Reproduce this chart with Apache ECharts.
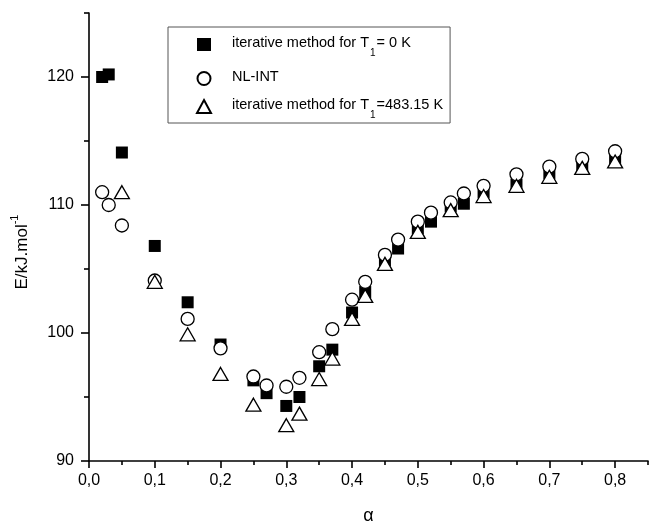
<!DOCTYPE html>
<html>
<head>
<meta charset="utf-8">
<script src="https://cdn.jsdelivr.net/npm/echarts@6/dist/echarts.min.js"></script>
<style>
html, body { margin: 0; padding: 0; background: #fff; }
#chart { width: 649px; height: 521px; }
</style>
</head>
<body>
<div id="chart"></div>
<script>
// Conversion degree α at which the activation energy was evaluated
const alpha = [0.02, 0.03, 0.05, 0.10, 0.15, 0.20, 0.25, 0.27, 0.30, 0.32, 0.35, 0.37, 0.40,
               0.42, 0.45, 0.47, 0.50, 0.52, 0.55, 0.57, 0.60, 0.65, 0.70, 0.75, 0.80];

// Activation energy E (kJ/mol); null where no value was obtained
const eIterT0 = [120.0, 120.2, 114.1, 106.8, 102.4, 99.1, 96.3, 95.3, 94.3, 95.0, 97.4, 98.7, 101.6,
                 103.2, 105.7, 106.6, 108.2, 108.7, 109.9, 110.1, 111.0, 111.6, 112.5, 113.0, 113.6];
const eNlInt  = [111.0, 110.0, 108.4, 104.1, 101.1, 98.8, 96.6, 95.9, 95.8, 96.5, 98.5, 100.3, 102.6,
                 104.0, 106.1, 107.3, 108.7, 109.4, 110.2, 110.9, 111.5, 112.4, 113.0, 113.6, 114.2];
const eIterT483 = [null, null, 111.0, 104.0, 99.9, 96.8, 94.4, null, 92.8, 93.7, 96.4, 98.0, 101.1,
                   102.9, 105.4, null, 107.9, null, 109.6, null, 110.7, 111.5, 112.2, 112.9, 113.4];

// Axis ticks
const xMajorTicks = [0, 0.1, 0.2, 0.3, 0.4, 0.5, 0.6, 0.7, 0.8];
const xMinorTicks = [0.05, 0.15, 0.25, 0.35, 0.45, 0.55, 0.65, 0.75, 0.85];
const yMajorTicks = [90, 100, 110, 120];
const yMinorTicks = [95, 105, 115, 125];

const FONT = '"Liberation Sans", Arial, sans-serif';

function pairs(xs, ys) {
  const out = [];
  xs.forEach((x, i) => { if (ys[i] !== null) out.push([x, ys[i]]); });
  return out;
}

const axisLineStyle = { color: '#000', width: 1.6 };

function baseAxis(extra) {
  return Object.assign({
    type: 'value',
    splitLine: { show: false },
    axisLine: { show: true, onZero: false, lineStyle: axisLineStyle }
  }, extra);
}

const chart = echarts.init(document.getElementById('chart'), null, { renderer: 'canvas' });

chart.setOption({
  animation: false,
  backgroundColor: '#fff',
  grid: { left: 89, right: 1, top: 13, bottom: 60, containLabel: false, outerBoundsMode: 'none' },
  xAxis: [
    baseAxis({
      min: 0, max: 0.85,
      name: 'α', nameLocation: 'middle', nameGap: 46,
      nameTextStyle: { fontFamily: FONT, fontSize: 18, color: '#000' },
      axisTick: { show: true, length: 7, customValues: xMajorTicks, lineStyle: axisLineStyle },
      axisLabel: {
        customValues: xMajorTicks, margin: 12,
        fontFamily: FONT, fontSize: 16, color: '#000',
        formatter: v => v.toFixed(1).replace('.', ',')
      }
    }),
    baseAxis({
      min: 0, max: 0.85, position: 'bottom',
      axisLine: { show: false },
      axisTick: { show: true, length: 4, customValues: xMinorTicks, lineStyle: axisLineStyle },
      axisLabel: { show: false }
    })
  ],
  yAxis: [
    baseAxis({
      min: 90, max: 125,
      name: '{t|E/kJ.mol}{s|-1}', nameLocation: 'middle', nameGap: 58,
      nameTextStyle: {
        padding: [0, 30, 0, 0],
        rich: {
          t: { fontFamily: FONT, fontSize: 17, color: '#000', lineHeight: 22, verticalAlign: 'bottom' },
          s: { fontFamily: FONT, fontSize: 11, color: '#000', lineHeight: 22, verticalAlign: 'top' }
        }
      },
      axisTick: { show: true, length: 8, customValues: yMajorTicks, lineStyle: axisLineStyle },
      axisLabel: {
        customValues: yMajorTicks, margin: 15,
        fontFamily: FONT, fontSize: 16, color: '#000'
      }
    }),
    baseAxis({
      min: 90, max: 125, position: 'left',
      axisLine: { show: false },
      axisTick: { show: true, length: 5, customValues: yMinorTicks, lineStyle: axisLineStyle },
      axisLabel: { show: false }
    })
  ],
  legend: {
    left: 168, top: 27,
    orient: 'vertical',
    itemWidth: 14, itemHeight: 13, itemGap: 11,
    padding: [8, 7, 3, 28],
    borderColor: '#555', borderWidth: 1,
    backgroundColor: '#fff',
    data: ['T0', 'NL-INT', 'T483'],
    formatter: name => ({
      'T0': '{t|iterative method for T}{s|1}{t|= 0 K}',
      'NL-INT': '{t|NL-INT}',
      'T483': '{t|iterative method for T}{s|1}{t|=483.15 K}'
    })[name],
    textStyle: {
      padding: [0, 0, 0, 16],
      rich: {
        t: { fontFamily: FONT, fontSize: 14.5, color: '#000', lineHeight: 19, verticalAlign: 'top' },
        s: { fontFamily: FONT, fontSize: 10, color: '#000', lineHeight: 19, verticalAlign: 'bottom', padding: [0, 1, -4, 1] }
      }
    }
  },
  series: [
    {
      name: 'T0', type: 'scatter', symbol: 'rect', symbolSize: 12,
      itemStyle: { color: '#000', borderColor: '#000', borderWidth: 0, opacity: 1 },
      data: pairs(alpha, eIterT0)
    },
    {
      name: 'NL-INT', type: 'scatter', symbol: 'circle', symbolSize: 13,
      itemStyle: { color: '#fff', borderColor: '#000', borderWidth: 1.3, opacity: 1 },
      data: pairs(alpha, eNlInt)
    },
    {
      name: 'T483', type: 'scatter', symbol: 'triangle', symbolSize: [15, 13],
      itemStyle: { color: '#fff', borderColor: '#000', borderWidth: 1.3, opacity: 1 },
      data: pairs(alpha, eIterT483)
    }
  ]
});
</script>
</body>
</html>
